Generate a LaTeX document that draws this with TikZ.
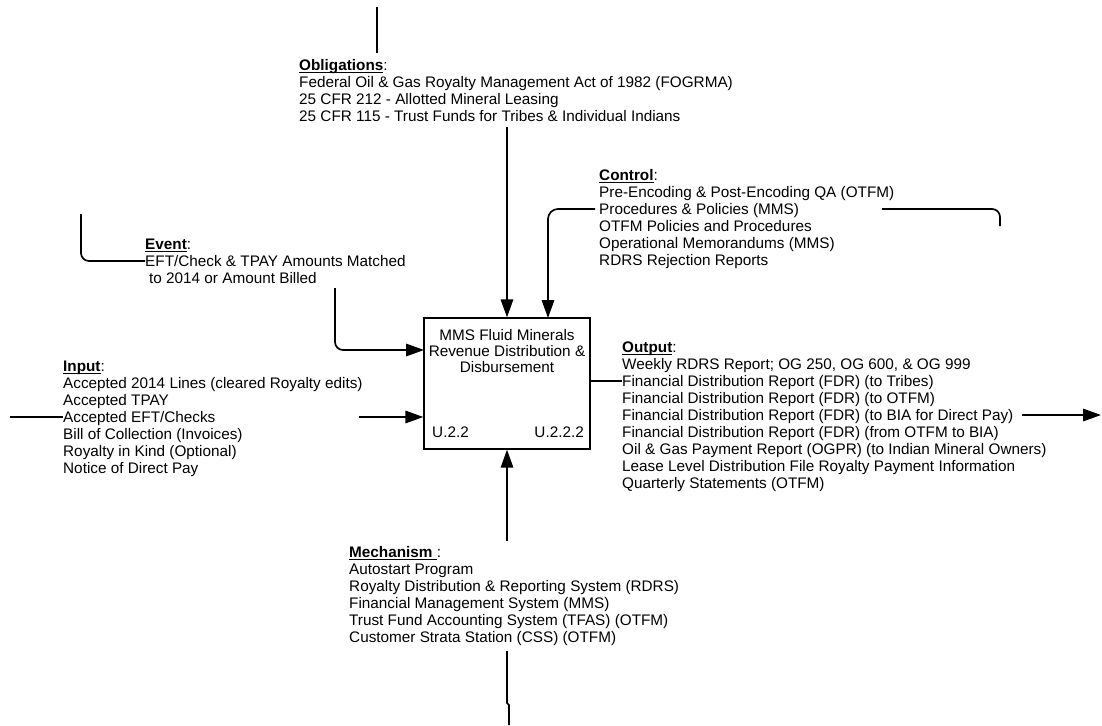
\documentclass[tikz,border=0pt]{standalone}
\usepackage{fontspec}
\setmainfont{Liberation Sans}
\usetikzlibrary{arrows.meta}
% bold heading with a heavy underline
\newcommand\hdr[1]{\setbox0\hbox{\textbf{#1}}\rlap{\rule[-2.4pt]{\wd0}{1.2pt}}\box0}
\newcommand\labelfont{\fontsize{15.3}{17}\selectfont\lineskiplimit=-20pt\relax}
\newcommand\boxfont{\fontsize{15.3}{16}\selectfont\lineskiplimit=-20pt\relax}
\begin{document}
\begin{tikzpicture}[x=1pt,y=-1pt,
  txt/.style={font=\labelfont, align=left, inner sep=0pt, anchor=north west},
  btxt/.style={font=\boxfont, inner sep=0pt},
  wire/.style={line width=1.7pt},
  arr/.style={wire, -{Triangle[length=18pt,width=12.5pt]}},
  box/.style={draw, line width=1.4pt, minimum width=166pt, minimum height=131pt, inner sep=0pt}]
\useasboundingbox (0,0) rectangle (1102,725);

% activity box
\node[box] (proc) at (507,383.5) {};
\node[btxt, align=center, anchor=north] (ptitle) at (507,329.3)
  {\strut MMS Fluid Minerals\\Revenue Distribution \&\\Disbursement};
\node[btxt, anchor=base west] (pnode) at (432,437.5) {U.2.2};
\node[btxt, anchor=base east] (pnum) at (584,437.5) {U.2.2.2};

% label blocks
\node[txt] (obl) at (299,58.6) {\strut\hdr{Obligations}:\\
  Federal Oil \& Gas Royalty Management Act of 1982 (FOGRMA)\\
  25 CFR 212 - Allotted Mineral Leasing\\
  25 CFR 115 - Trust Funds for Tribes \& Individual Indians};
\node[txt] (ctl) at (599,168.6) {\strut\hdr{Control}:\\
  Pre-Encoding \& Post-Encoding QA (OTFM)\\
  Procedures \& Policies (MMS)\\
  OTFM Policies and Procedures\\
  Operational Memorandums (MMS)\\
  RDRS Rejection Reports};
\node[txt] (evt) at (145,237.6) {\strut\hdr{Event}:\\
  EFT/Check \& TPAY Amounts Matched\\
  \hspace*{4pt}to 2014 or Amount Billed};
\node[txt] (inp) at (63,359.6) {\strut\hdr{Input}:\\
  Accepted 2014 Lines (cleared Royalty edits)\\
  Accepted TPAY\\
  Accepted EFT/Checks\\
  Bill of Collection (Invoices)\\
  Royalty in Kind (Optional)\\
  Notice of Direct Pay};
\node[txt] (outp) at (622,340.6) {\strut\hdr{Output}:\\
  Weekly RDRS Report; OG 250, OG 600, \& OG 999\\
  Financial Distribution Report (FDR) (to Tribes)\\
  Financial Distribution Report (FDR) (to OTFM)\\
  Financial Distribution Report (FDR) (to BIA for Direct Pay)\\
  Financial Distribution Report (FDR) (from OTFM to BIA)\\
  Oil \& Gas Payment Report (OGPR) (to Indian Mineral Owners)\\
  Lease Level Distribution File Royalty Payment Information\\
  Quarterly Statements (OTFM)};
\node[txt] (mech) at (349,545.6) {\strut\hdr{Mechanism\ }:\\
  Autostart Program\\
  Royalty Distribution \& Reporting System (RDRS)\\
  Financial Management System (MMS)\\
  Trust Fund Accounting System (TFAS) (OTFM)\\
  Customer Strata Station (CSS) (OTFM)};

% connector end points
\coordinate (oblTop) at (377,7);
\coordinate (oblBot) at (377,53);
\coordinate (oblIn) at (507,127);
\coordinate (ctlIn) at (595,209);
\coordinate (ctlR0) at (882,209);
\coordinate (ctlR1) at (1000,226);
\coordinate (evtTop) at (81,214);
\coordinate (evtL) at (145,261);
\coordinate (evtIn) at (335,288);
\coordinate (inL0) at (10,417);
\coordinate (inL1) at (63,417);
\coordinate (inIn) at (359,417);
\coordinate (outR) at (1022,415);
\coordinate (outEnd) at (1101,415);
\coordinate (outL) at (622,381);
\coordinate (mechIn) at (507,541);
\coordinate (mechLo) at (507,651);
\coordinate (mechEnd) at (509,725);

% obligations
\draw[wire] (oblTop) -- (oblBot);
\draw[arr] (oblIn) -- (oblIn |- proc.north);
% control
\draw[arr, rounded corners=10pt] (ctlIn) -- (548,209) -- (548,318);
\draw[wire, rounded corners=8pt] (ctlR0) -- (1000,209) -- (ctlR1);
% event
\draw[wire, rounded corners=8pt] (evtTop) -- (81,261) -- (evtL);
\draw[arr, rounded corners=8pt] (evtIn) -- (335,350) -- (424,350);
% input
\draw[wire] (inL0) -- (inL1);
\draw[arr] (inIn) -- (inIn -| proc.west);
% output
\draw[wire] (proc.east |- outL) -- (outL);
\draw[arr] (outR) -- (outEnd);
% mechanism
\draw[arr] (mechIn) -- (mechIn |- proc.south);
\draw[wire] (mechLo) -- (507,703) -- (509,705) -- (mechEnd);
\end{tikzpicture}
\end{document}
